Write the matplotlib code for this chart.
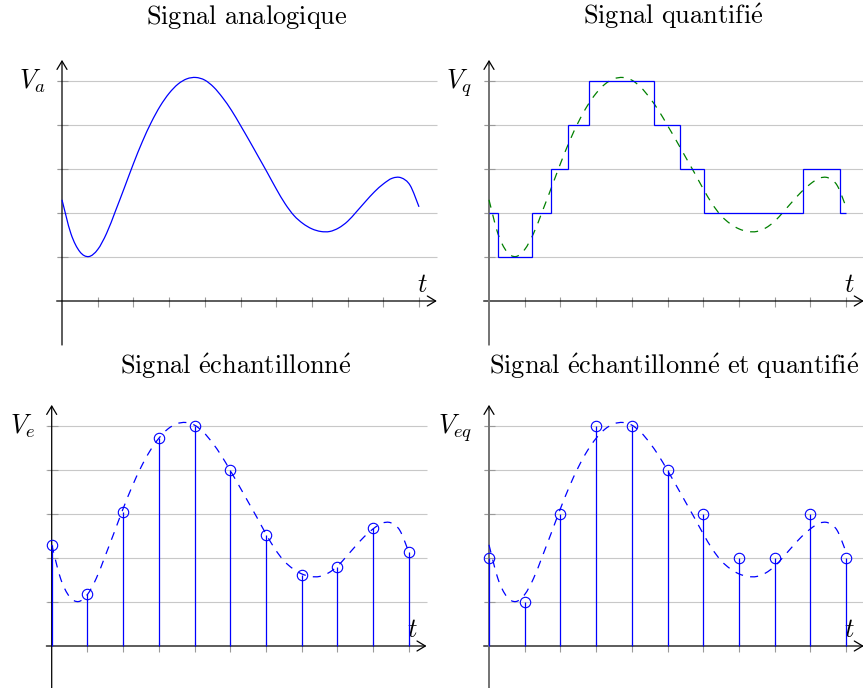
import numpy as np
import matplotlib
matplotlib.use("Agg")
import matplotlib.pyplot as plt
from matplotlib.path import Path
from matplotlib.patches import PathPatch

plt.rcParams["mathtext.fontset"] = "cm"
plt.rcParams["lines.scale_dashes"] = False

# analog signal, read every 0.25 time unit
t_analog = np.arange(0, 10.01, 0.25)
v_analog = [2.30, 1.53, 1.12, 1.01, 1.17, 1.54, 2.05, 2.58, 3.12, 3.62,
            4.06, 4.43, 4.72, 4.93, 5.05, 5.08, 5.02, 4.86, 4.62, 4.33,
            3.99, 3.64, 3.28, 2.92, 2.55, 2.21, 1.94, 1.76, 1.64, 1.58,
            1.58, 1.66, 1.81, 2.03, 2.26, 2.48, 2.66, 2.79, 2.80, 2.63,
            2.14]

# samples taken at each time unit
t_samples = [0, 1, 2, 3, 4, 5, 6, 7, 8, 9, 10]
v_samples = [2.30, 1.18, 3.04, 4.72, 5.01, 3.99, 2.52, 1.61, 1.80, 2.68, 2.13]
v_samples_q = [2, 1, 3, 5, 5, 4, 3, 2, 2, 3, 2]

# quantized (continuous time) signal
step_edges = [0, 0.24, 1.21, 1.74, 2.22, 2.81, 4.61, 5.34, 6.03, 8.79, 9.82, 10]
step_levels = [2, 1, 2, 3, 4, 5, 4, 3, 2, 3, 2]

levels = [1, 2, 3, 4, 5]
t_ticks = [1, 2, 3, 4, 5, 6, 7, 8, 9, 10]

titles = [r"$\mathrm{Signal\ analogique}$",
          r"$\mathrm{Signal\ quantifi\acute{e}}$",
          r"$\mathrm{Signal\ \acute{e}chantillonn\acute{e}}$",
          r"$\mathrm{Signal\ \acute{e}chantillonn\acute{e}\ et\ quantifi\acute{e}}$"]
ylabels = [r"$V_a$", r"$V_q$", r"$V_e$", r"$V_{eq}$"]

W, H = 863, 688
SX, SY = 35.7, 44.0           # pixels per time unit / per level
origins = [(62, 301), (489, 301), (51.7, 646), (489, 646)]
title_y = [6.30, 6.30, 6.18, 6.18]
XLIM = (-1.8, 10.7)
YLIM = (-1.1, 6.7)

BLUE = "#0000ff"
GREEN = "#008000"
FS = 19

fig = plt.figure(figsize=(W / 100, H / 100), dpi=100)


def make_panel(ox, oy):
    left = ox + SX * XLIM[0]
    right = ox + SX * XLIM[1]
    top = oy - SY * YLIM[1]
    bottom = oy - SY * YLIM[0]
    ax = fig.add_axes([left / W, 1 - bottom / H, (right - left) / W, (bottom - top) / H])
    ax.set_xlim(*XLIM)
    ax.set_ylim(*YLIM)
    ax.axis("off")
    return ax


def smooth_curve(x, y):
    # cubic Bezier pieces through the points (like a tikz "smooth" plot)
    pts = np.column_stack([x, y])
    verts = [pts[0]]
    codes = [Path.MOVETO]
    n = len(pts)
    for i in range(n - 1):
        p0 = pts[max(i - 1, 0)]
        p1 = pts[i]
        p2 = pts[i + 1]
        p3 = pts[min(i + 2, n - 1)]
        verts += [p1 + (p2 - p0) / 6, p2 - (p3 - p1) / 6, p2]
        codes += [Path.CURVE4] * 3
    return Path(verts, codes)


def draw_frame(ax, grey_axis=False):
    # help lines and ticks
    ax.hlines(levels, -0.15, 10.5, color="#c8c8c8", lw=0.8, zorder=1)
    ax.hlines(levels, -0.14, 0.17, color="#9a9a9a", lw=0.8, zorder=1.5)
    ax.vlines(t_ticks, -0.14, 0.1, color="#9a9a9a", lw=0.8, zorder=1.5)
    arrow = dict(arrowstyle="->,head_length=0.5,head_width=0.3", lw=0.9,
                 color="black", shrinkA=0, shrinkB=0, mutation_scale=12)
    ax.annotate("", xy=(10.5, 0), xytext=(-0.15, 0), arrowprops=arrow, zorder=2)
    ax.annotate("", xy=(0, 5.48), xytext=(0, -1.0), arrowprops=arrow, zorder=2)
    if grey_axis:
        ax.plot([0, 0], [-1.0, 5.35], color="#777777", lw=1.4, zorder=2.5,
                solid_capstyle="butt")


axes = [make_panel(*o) for o in origins]
analog = smooth_curve(t_analog, v_analog)

for i, ax in enumerate(axes):
    draw_frame(ax, grey_axis=(i in (1, 3)))
    ax.text(5.17, title_y[i], titles[i], ha="center", va="baseline", fontsize=FS)
    ax.text(-0.47, 4.84, ylabels[i], ha="right", va="baseline", fontsize=FS)
    ax.text(10.1, 0.2, r"$t$", ha="center", va="baseline", fontsize=FS)

# analog signal
axes[0].add_patch(PathPatch(analog, fill=False, ec=BLUE, lw=0.9, zorder=3))

# quantized signal over the analog one
axes[1].add_patch(PathPatch(analog, fill=False, ec=GREEN, lw=0.9,
                            ls=(0, (5.8, 5.2)), zorder=3))
axes[1].stairs(step_levels, step_edges, baseline=None, color=BLUE, lw=0.9, zorder=4)

# sampled signals
for ax, vals in ((axes[2], v_samples), (axes[3], v_samples_q)):
    ax.add_patch(PathPatch(analog, fill=False, ec=BLUE, lw=0.9,
                           ls=(0, (5.8, 5.2)), zorder=3))
    ax.vlines(t_samples, 0, vals, color=BLUE, lw=0.9, zorder=4)
    ax.plot(t_samples, vals, "o", mfc="none", mec=BLUE, ms=7.5, mew=0.8, zorder=5)

fig.savefig("out.png", dpi=100)
